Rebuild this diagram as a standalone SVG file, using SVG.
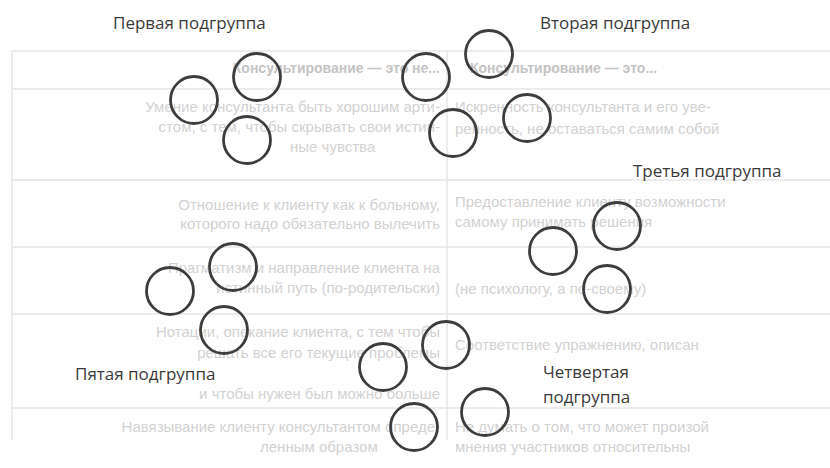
<svg xmlns="http://www.w3.org/2000/svg" width="830" height="468" viewBox="0 0 830 468">
  <style>
    .bgline { stroke: #e6e6e6; stroke-width: 1.5; fill: none; }
    .bgt { font-family: "Liberation Sans", Arial, sans-serif; font-size: 15px; fill: #d2d2d2; }
    .bgh { font-family: "Liberation Sans", Arial, sans-serif; font-size: 14px; font-weight: bold; fill: #c4c4c4; }
    .ring { fill: none; stroke: #3d3d3d; stroke-width: 2.8; }
    .lbl { font-family: "Open Sans", "Noto Sans", sans-serif; font-size: 17px; fill: #3a3a3a; }
  </style>
  <rect width="830" height="468" fill="#ffffff"/>

  <!-- faint background table (show-through of the printed page) -->
  <g id="background">
    <path class="bgline" d="M12 51 H830 M12 89 H830 M12 180 H830 M12 247 H830 M12 314 H830 M12 408 H830 M12 51 V440 M447 51 V440"/>
    <text class="bgh" x="440" y="73" text-anchor="end">Консультирование — это не...</text>
    <text class="bgh" x="470" y="73">Консультирование — это...</text>
    <text class="bgt" x="440" y="112" text-anchor="end">Умение консультанта быть хорошим арти-</text>
    <text class="bgt" x="440" y="132" text-anchor="end">стом, с тем, чтобы скрывать свои истин-</text>
    <text class="bgt" x="290" y="152">ные чувства</text>
    <text class="bgt" x="455" y="112">Искренность консультанта и его уве-</text>
    <text class="bgt" x="455" y="134">ренность, не оставаться самим собой</text>
    <text class="bgt" x="440" y="210" text-anchor="end">Отношение к клиенту как к больному,</text>
    <text class="bgt" x="440" y="229" text-anchor="end">которого надо обязательно вылечить</text>
    <text class="bgt" x="455" y="207">Предоставление клиенту возможности</text>
    <text class="bgt" x="455" y="227">самому принимать решения</text>
    <text class="bgt" x="440" y="273" text-anchor="end">Прагматизм и направление клиента на</text>
    <text class="bgt" x="440" y="293" text-anchor="end">истинный путь (по-родительски)</text>
    <text class="bgt" x="455" y="294">(не психологу, а по-своему)</text>
    <text class="bgt" x="440" y="337" text-anchor="end">Нотации, опекание клиента, с тем чтобы</text>
    <text class="bgt" x="440" y="358" text-anchor="end">решать все его текущие проблемы</text>
    <text class="bgt" x="440" y="399" text-anchor="end">и чтобы нужен был можно больше</text>
    <text class="bgt" x="455" y="350">Соответствие упражнению, описан</text>
    <text class="bgt" x="440" y="432" text-anchor="end">Навязывание клиенту консультантом опреде-</text>
    <text class="bgt" x="260" y="452">ленным образом</text>
    <text class="bgt" x="455" y="432">Не думать о том, что может произой</text>
    <text class="bgt" x="455" y="452">мнения участников относительны</text>
  </g>

  <g id="sub1">
    <circle class="ring" cx="194" cy="100" r="23.5"/>
    <circle class="ring" cx="257" cy="77" r="23.5"/>
    <circle class="ring" cx="247" cy="140" r="23.5"/>
    <text class="lbl" x="113" y="29">Первая подгруппа</text>
  </g>
  <g id="sub2">
    <circle class="ring" cx="426" cy="77" r="23.5"/>
    <circle class="ring" cx="489" cy="54" r="23.5"/>
    <circle class="ring" cx="453" cy="133" r="23.5"/>
    <circle class="ring" cx="527" cy="118" r="23.5"/>
    <text class="lbl" x="540" y="29">Вторая подгруппа</text>
  </g>
  <g id="sub3">
    <circle class="ring" cx="617" cy="226" r="23.5"/>
    <circle class="ring" cx="553" cy="251" r="23.5"/>
    <circle class="ring" cx="607" cy="289" r="23.5"/>
    <text class="lbl" x="633" y="177">Третья подгруппа</text>
  </g>
  <g id="sub4">
    <circle class="ring" cx="446" cy="345" r="23.5"/>
    <circle class="ring" cx="383" cy="367" r="23.5"/>
    <circle class="ring" cx="414" cy="427" r="23.5"/>
    <circle class="ring" cx="485" cy="412" r="23.5"/>
    <text class="lbl" x="543" y="378">Четвертая</text>
    <text class="lbl" x="543" y="403">подгруппа</text>
  </g>
  <g id="sub5">
    <circle class="ring" cx="170" cy="291" r="23.5"/>
    <circle class="ring" cx="233" cy="267" r="23.5"/>
    <circle class="ring" cx="224" cy="330" r="23.5"/>
    <text class="lbl" x="75" y="380">Пятая подгруппа</text>
  </g>
  <g id="connectors"/>
</svg>
